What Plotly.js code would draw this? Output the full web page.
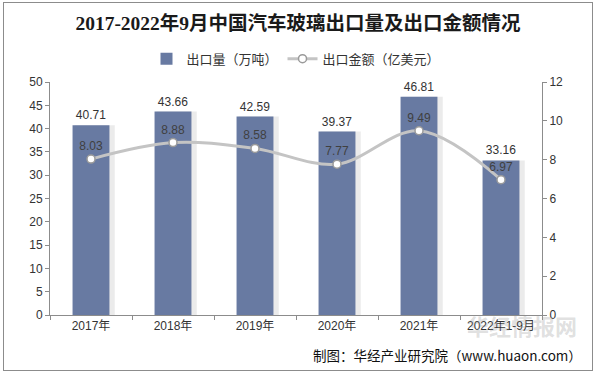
<!DOCTYPE html>
<html><head><meta charset="utf-8">
<script src="https://cdn.plot.ly/plotly-3.0.1.min.js"></script>
<style>
body{margin:0;padding:0;background:#fff;}
#wrap{position:relative;width:596px;height:374px;}
#chart{width:596px;height:374px;}
#frame{position:absolute;left:3px;top:2px;width:588px;height:367px;border:1px solid #8c8c8c;pointer-events:none;}
</style></head>
<body>
<div id="wrap"><div id="chart"></div><div id="frame"></div></div>
<script>
const categories = ["2017年","2018年","2019年","2020年","2021年","2022年1-9月"];
const exportVolume = [40.71, 43.66, 42.59, 39.37, 46.81, 33.16];   // 万吨
const exportValue = [8.03, 8.88, 8.58, 7.77, 9.49, 6.97];         // 亿美元
const leftTicks = [0,5,10,15,20,25,30,35,40,45,50];
const rightTicks = [0,2,4,6,8,10,12];

const font = '"Noto Sans CJK SC", "Noto Sans", Arial, sans-serif';

const shadow = {
  type:'bar', x:categories, y:exportVolume, width:0.49, offset:-0.2,
  marker:{color:'rgba(110,110,110,0.14)'}, showlegend:false, hoverinfo:'skip'
};
const bars = {
  type:'bar', name:'出口量（万吨）', x:categories, y:exportVolume,
  width:0.45, offset:-0.225,
  marker:{color:'#687aa2'},
  text:exportVolume.map(v=>v.toFixed(2)), textposition:'outside',
  textfont:{size:12, color:'#333', family:'Arial, "Liberation Sans", sans-serif'},
  cliponaxis:false
};
const line = {
  type:'scatter', mode:'lines+markers+text', name:'出口金额（亿美元）',
  x:categories, y:exportValue, yaxis:'y2',
  line:{color:'#c4c4c4', width:3, shape:'spline', smoothing:1},
  marker:{size:8, color:'#ffffff', line:{color:'#9a9a9a', width:1.5}},
  text:exportValue.map(v=>v.toFixed(2)), textposition:'top center',
  textfont:{size:12, color:'#404040', family:'Arial, "Liberation Sans", sans-serif'},
  cliponaxis:false
};

const layout = {
  width:596, height:374,
  margin:{l:50, r:54, t:82, b:59},
  paper_bgcolor:'#fff', plot_bgcolor:'#fff',
  barmode:'overlay',
  font:{family:font, size:12, color:'#333'},
  title:{text:'<b>2017-2022年9月中国汽车玻璃出口量及出口金额情况</b>',
         font:{family:'"Liberation Serif", "Noto Sans CJK SC", serif', size:19.5, color:'#1a1a1a'},
         x:0.5, xanchor:'center', y:1-23/374, yanchor:'middle'},
  legend:{orientation:'h', x:0.5, xanchor:'center', y:1.1, yanchor:'middle',
          font:{size:13, color:'#333', family:font}, itemwidth:30, traceorder:'normal'},
  xaxis:{type:'category', showline:true, linecolor:'#8c8c8c', linewidth:1,
         ticks:'outside', tickson:'boundaries', ticklen:4, tickcolor:'#8c8c8c',
         tickfont:{size:12, color:'#333', family:'Arial, "Noto Sans CJK SC", sans-serif'},
         showgrid:false, zeroline:false, fixedrange:true},
  yaxis:{range:[0,50], tickvals:leftTicks, showline:true, linecolor:'#8c8c8c', linewidth:1,
         ticks:'outside', ticklen:4, tickcolor:'#8c8c8c', showgrid:false, zeroline:false,
         tickfont:{size:12, color:'#333', family:'Arial, "Liberation Sans", sans-serif'}},
  yaxis2:{range:[0,12], tickvals:rightTicks, overlaying:'y', side:'right',
          showline:true, linecolor:'#8c8c8c', linewidth:1,
          ticks:'outside', ticklen:4, tickcolor:'#8c8c8c', showgrid:false, zeroline:false,
          tickfont:{size:12, color:'#333', family:'Arial, "Liberation Sans", sans-serif'}},
  annotations:[
    {text:'<b>华经情报网</b>', xref:'paper', yref:'paper', x:1.075, y:-0.045, xanchor:'right', yanchor:'middle',
     showarrow:false, font:{size:22, color:'rgba(150,150,150,0.3)', family:font}},
    {text:'制图：华经产业研究院（www.huaon.com）', xref:'paper', yref:'paper', x:1.085, y:-0.172,
     xanchor:'right', yanchor:'middle', showarrow:false,
     font:{size:13.5, color:'#111', family:font}}
  ]
};
Plotly.newPlot('chart', [shadow, bars, line], layout, {displayModeBar:false, staticPlot:true});
</script>
</body></html>
